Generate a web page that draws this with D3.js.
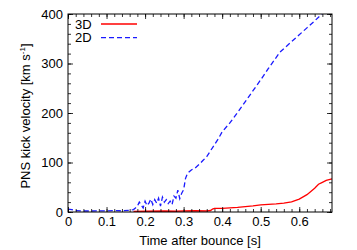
<!DOCTYPE html>
<html>
<head>
<meta charset="utf-8">
<script src="https://cdn.jsdelivr.net/npm/d3@7"></script>
<style>
  body { margin: 0; background: #fff; }
  text { font-family: "Liberation Sans", Arial, sans-serif; fill: #000; }
</style>
</head>
<body>
<svg id="chart"></svg>
<script>
// 2D run (blue dashed)
var t2d = [0, 0.01, 0.02, 0.04, 0.06, 0.08, 0.10, 0.12, 0.14, 0.16, 0.17, 0.175, 0.18, 0.185, 0.19, 0.195, 0.2, 0.205, 0.21, 0.215, 0.22, 0.225, 0.23, 0.235, 0.24, 0.245, 0.25, 0.255, 0.26, 0.265, 0.27, 0.275, 0.28, 0.285, 0.29, 0.295, 0.3, 0.305, 0.31, 0.32, 0.33, 0.34, 0.35, 0.36, 0.37, 0.38, 0.39, 0.4, 0.42, 0.44, 0.46, 0.48, 0.5, 0.52, 0.54, 0.55, 0.56, 0.58, 0.6, 0.62, 0.64, 0.66];
var v2d = [6, 5, 3, 2, 2, 2.5, 2, 3, 2.5, 3.5, 5, 8, 12, 20, 14, 8, 22, 13, 18, 26, 15, 25, 18, 28, 12, 30, 20, 25, 17, 22, 15, 32, 28, 44, 27, 38, 45, 68, 78, 85, 89, 96, 104, 112, 124, 136, 148, 162, 180, 201, 223, 245, 267, 290, 312, 323, 330, 344, 358, 372, 386, 401];

// 3D run (red solid)
var t3d = [0.17, 0.2, 0.25, 0.28, 0.3, 0.33, 0.36, 0.37, 0.375, 0.38, 0.4, 0.42, 0.44, 0.46, 0.48, 0.5, 0.52, 0.54, 0.56, 0.58, 0.6, 0.62, 0.64, 0.65, 0.66, 0.67, 0.68, 0.685];
var v3d = [1, 1.5, 2, 1.5, 2, 2.5, 2, 3, 6, 7.5, 7.5, 8.5, 9.5, 11, 12.5, 14.5, 15.5, 16.5, 18, 20.5, 26, 35, 48, 56, 60, 64, 66, 67];

var xTicks = [0, 0.1, 0.2, 0.3, 0.4, 0.5, 0.6];
var yTicks = [0, 100, 200, 300, 400];
var xMinor = d3.range(0, 0.685, 0.02);
var yMinor = d3.range(0, 401, 20);

var width = 357, height = 250;
var pLeft = 68, pRight = 332, pTop = 14, pBottom = 212;
var fs = 13;

var svg = d3.select("#chart").attr("width", width).attr("height", height);

var x = d3.scaleLinear().domain([0, 0.685]).range([pLeft, pRight]);
var y = d3.scaleLinear().domain([0, 400]).range([pBottom, pTop]);

var line = d3.line()
    .x(function (d) { return x(d[0]); })
    .y(function (d) { return y(d[1]); });

svg.append("defs").append("clipPath").attr("id", "clip")
    .append("rect").attr("x", pLeft).attr("y", pTop)
    .attr("width", pRight - pLeft).attr("height", pBottom - pTop);

var plot = svg.append("g").attr("clip-path", "url(#clip)");

plot.append("path")
    .datum(d3.zip(t3d, v3d))
    .attr("d", line)
    .attr("fill", "none")
    .attr("stroke", "#ff0000")
    .attr("stroke-width", 1.3);

plot.append("path")
    .datum(d3.zip(t2d, v2d))
    .attr("d", line)
    .attr("fill", "none")
    .attr("stroke", "#1a1aff")
    .attr("stroke-width", 1.3)
    .attr("stroke-dasharray", "5,3");

// axes, ticks pointing inward on all four sides
function addAxis(axis, tx, ty) {
    var g = svg.append("g").attr("transform", "translate(" + tx + "," + ty + ")").call(axis);
    g.select(".domain").remove();
    g.selectAll("line").attr("stroke", "#000").attr("stroke-width", 0.8);
    g.selectAll("text").attr("font-size", fs).attr("fill", "#000")
        .style("font-family", "'Liberation Sans', Arial, sans-serif");
    return g;
}

addAxis(d3.axisBottom(x).tickValues(xTicks).tickSizeInner(-5).tickSizeOuter(0).tickPadding(5)
    .tickFormat(function (d) { return d === 0 ? "0" : d3.format(".1f")(d); }), 0, pBottom);
addAxis(d3.axisBottom(x).tickValues(xMinor).tickSizeInner(-3).tickSizeOuter(0).tickFormat(""), 0, pBottom);
addAxis(d3.axisTop(x).tickValues(xTicks).tickSizeInner(-5).tickSizeOuter(0).tickFormat(""), 0, pTop);
addAxis(d3.axisTop(x).tickValues(xMinor).tickSizeInner(-3).tickSizeOuter(0).tickFormat(""), 0, pTop);

addAxis(d3.axisLeft(y).tickValues(yTicks).tickSizeInner(-5).tickSizeOuter(0).tickPadding(5)
    .tickFormat(d3.format("d")), pLeft, 0);
addAxis(d3.axisLeft(y).tickValues(yMinor).tickSizeInner(-3).tickSizeOuter(0).tickFormat(""), pLeft, 0);
addAxis(d3.axisRight(y).tickValues(yTicks).tickSizeInner(-5).tickSizeOuter(0).tickFormat(""), pRight, 0);
addAxis(d3.axisRight(y).tickValues(yMinor).tickSizeInner(-3).tickSizeOuter(0).tickFormat(""), pRight, 0);

svg.append("rect")
    .attr("x", pLeft).attr("y", pTop)
    .attr("width", pRight - pLeft).attr("height", pBottom - pTop)
    .attr("fill", "none").attr("stroke", "#000").attr("stroke-width", 1);

// labels
svg.append("text")
    .attr("x", (pLeft + pRight) / 2).attr("y", 245)
    .attr("text-anchor", "middle").attr("font-size", fs)
    .text("Time after bounce [s]");

var yl = svg.append("text")
    .attr("transform", "translate(30," + ((pTop + pBottom) / 2 + 3) + ") rotate(-90)")
    .attr("text-anchor", "middle").attr("font-size", fs);
yl.append("tspan").text("PNS kick velocity [km s");
yl.append("tspan").attr("dy", -5).attr("font-size", 8).text("-1");
yl.append("tspan").attr("dy", 5).text("]");

// legend
var legend = [["3D", "#ff0000", null], ["2D", "#1a1aff", "5,3"]];
legend.forEach(function (d, i) {
    var ly = 24 + i * 13.7;
    svg.append("text").attr("x", 75).attr("y", ly + 4.5)
        .attr("font-size", fs).text(d[0]);
    svg.append("line")
        .attr("x1", 101).attr("x2", 137).attr("y1", ly).attr("y2", ly)
        .attr("stroke", d[1]).attr("stroke-width", 1.3)
        .attr("stroke-dasharray", d[2]);
});
</script>
</body>
</html>
